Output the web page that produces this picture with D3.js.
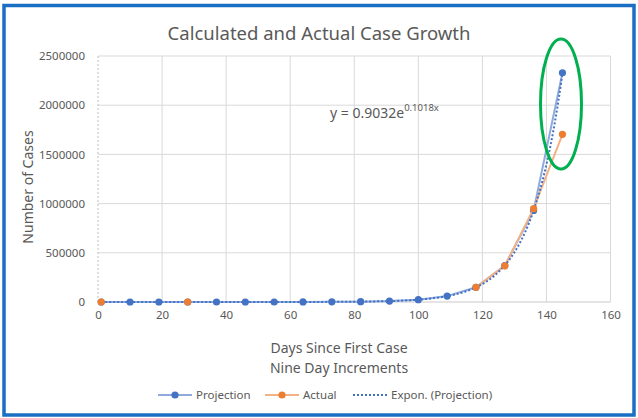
<!DOCTYPE html>
<html>
<head>
<meta charset="utf-8">
<script src="https://cdn.jsdelivr.net/npm/d3@7"></script>
<style>
  body { margin: 0; background: #fff; }
  svg { display: block; font-family: "Noto Sans", sans-serif; }
  .tick text { fill: #595959; }
</style>
</head>
<body>
<svg id="chart" width="638" height="418"></svg>
<script>
// data
var days = [1, 10, 19, 28, 37, 46, 55, 64, 73, 82, 91, 100, 109, 118, 127, 136, 145];
var projection = [1, 2, 6, 15, 38, 93, 230, 560, 1400, 3500, 9500, 24000, 60000, 150000, 370000, 930000, 2330000];
var actual = [0, null, null, 0, null, null, null, null, null, null, null, null, null, 149000, 368000, 948000, 1704000];
var xTicks = [0, 20, 40, 60, 80, 100, 120, 140, 160];
var yTicks = [0, 500000, 1000000, 1500000, 2000000, 2500000];
var trendA = 0.9032, trendB = 0.1018; // from the equation label

var svg = d3.select('#chart');
var grey = '#595959';

var x = d3.scaleLinear().domain([0, 160]).range([98, 610.5]);
var y = d3.scaleLinear().domain([0, 2500000]).range([302, 56]);

// outer selection border
svg.append('rect')
    .attr('x', 4).attr('y', 5.5)
    .attr('width', 630).attr('height', 409.5)
    .attr('fill', 'none')
    .attr('stroke', '#1a6fc4')
    .attr('stroke-width', 3.5);

// gridlines
svg.append('g').selectAll('line.h')
    .data(yTicks.slice(1))
    .enter().append('line')
    .attr('x1', x(0)).attr('x2', x(160))
    .attr('y1', d => y(d)).attr('y2', d => y(d))
    .attr('stroke', '#d9d9d9');

svg.append('g').selectAll('line.v')
    .data(xTicks.slice(1))
    .enter().append('line')
    .attr('x1', d => x(d)).attr('x2', d => x(d))
    .attr('y1', y(0)).attr('y2', y(2500000))
    .attr('stroke', '#d9d9d9');

svg.append('line')
    .attr('x1', x(0)).attr('x2', x(0))
    .attr('y1', y(0)).attr('y2', y(2500000))
    .attr('stroke', '#bfbfbf')
    .attr('stroke-dasharray', '2,2');

svg.append('line')
    .attr('x1', x(0)).attr('x2', x(160))
    .attr('y1', y(0)).attr('y2', y(0))
    .attr('stroke', '#c9c9c9');

// axes (labels only)
var xAxis = svg.append('g')
    .attr('transform', `translate(0,${y(0)})`)
    .call(d3.axisBottom(x).tickValues(xTicks).tickSize(0).tickPadding(9));
xAxis.select('.domain').remove();
xAxis.selectAll('text').attr('font-size', 11.5).attr('font-family', '"Noto Sans", sans-serif');

var yAxis = svg.append('g')
    .attr('transform', `translate(${x(0)},0)`)
    .call(d3.axisLeft(y).tickValues(yTicks).tickFormat(d3.format('d')).tickSize(0).tickPadding(13));
yAxis.select('.domain').remove();
yAxis.selectAll('text').attr('font-size', 11.5).attr('font-family', '"Noto Sans", sans-serif');

// series
var pts = days.map((d, i) => ({day: d, p: projection[i], a: actual[i]}));

var projLine = d3.line().x(d => x(d.day)).y(d => y(d.p));
var actLine = d3.line().defined(d => d.a !== null).x(d => x(d.day)).y(d => y(d.a));

svg.append('path')
    .datum(pts)
    .attr('d', projLine)
    .attr('fill', 'none')
    .attr('stroke', '#8faadc')
    .attr('stroke-width', 2);

svg.append('g').selectAll('circle')
    .data(pts)
    .enter().append('circle')
    .attr('cx', d => x(d.day)).attr('cy', d => y(d.p))
    .attr('r', 3.6)
    .attr('fill', '#4472c4');

svg.append('path')
    .datum(pts)
    .attr('d', actLine)
    .attr('fill', 'none')
    .attr('stroke', '#f4b183')
    .attr('stroke-width', 2);

// exponential trendline of the projection series
var trendX = d3.range(days[0], days[days.length - 1] + 0.5, 0.5);
svg.append('path')
    .datum(trendX)
    .attr('d', d3.line().x(d => x(d)).y(d => y(trendA * Math.exp(trendB * d))))
    .attr('fill', 'none')
    .attr('stroke', '#4472c4')
    .attr('stroke-width', 2)
    .attr('stroke-dasharray', '2,2');

svg.append('g').selectAll('circle')
    .data(pts.filter(d => d.a !== null))
    .enter().append('circle')
    .attr('cx', d => x(d.day)).attr('cy', d => y(d.a))
    .attr('r', 3.6)
    .attr('fill', '#ed7d31');

// equation label
var eq = svg.append('text')
    .attr('x', 330).attr('y', 118)
    .attr('font-size', 14)
    .attr('fill', grey);
eq.append('tspan').text('y = 0.9032e');
eq.append('tspan').attr('font-size', 9.5).attr('dy', -7).text('0.1018x');

// highlight ellipse
svg.append('ellipse')
    .attr('cx', 561).attr('cy', 104)
    .attr('rx', 20.5).attr('ry', 65)
    .attr('fill', 'none')
    .attr('stroke', '#00b050')
    .attr('stroke-width', 3);

// titles
svg.append('text')
    .attr('x', 319).attr('y', 40)
    .attr('text-anchor', 'middle')
    .attr('font-size', 18.5)
    .attr('fill', grey)
    .text('Calculated and Actual Case Growth');

svg.append('text')
    .attr('transform', 'translate(33,187) rotate(-90)')
    .attr('text-anchor', 'middle')
    .attr('font-size', 14)
    .attr('fill', grey)
    .text('Number of Cases');

svg.append('text')
    .attr('x', 339).attr('y', 353)
    .attr('text-anchor', 'middle')
    .attr('font-size', 14)
    .attr('fill', grey)
    .text('Days Since First Case');

svg.append('text')
    .attr('x', 339).attr('y', 373)
    .attr('text-anchor', 'middle')
    .attr('font-size', 14)
    .attr('fill', grey)
    .text('Nine Day Increments');

// legend
var legend = [
    {label: 'Projection', x: 158, line: '#8faadc', dot: '#4472c4'},
    {label: 'Actual', x: 265, line: '#f4b183', dot: '#ed7d31'},
    {label: 'Expon. (Projection)', x: 353, line: '#4472c4', dot: null}
];
var lg = svg.append('g').selectAll('g')
    .data(legend)
    .enter().append('g')
    .attr('transform', d => `translate(${d.x},395)`);
lg.append('line')
    .attr('x1', 0).attr('x2', 34)
    .attr('stroke', d => d.line)
    .attr('stroke-width', 2)
    .attr('stroke-dasharray', d => d.dot ? null : '2,2');
lg.filter(d => d.dot).append('circle')
    .attr('cx', 17).attr('r', 3.6)
    .attr('fill', d => d.dot);
lg.append('text')
    .attr('x', 38).attr('y', 4)
    .attr('font-size', 11.5)
    .attr('fill', grey)
    .text(d => d.label);
</script>
</body>
</html>
